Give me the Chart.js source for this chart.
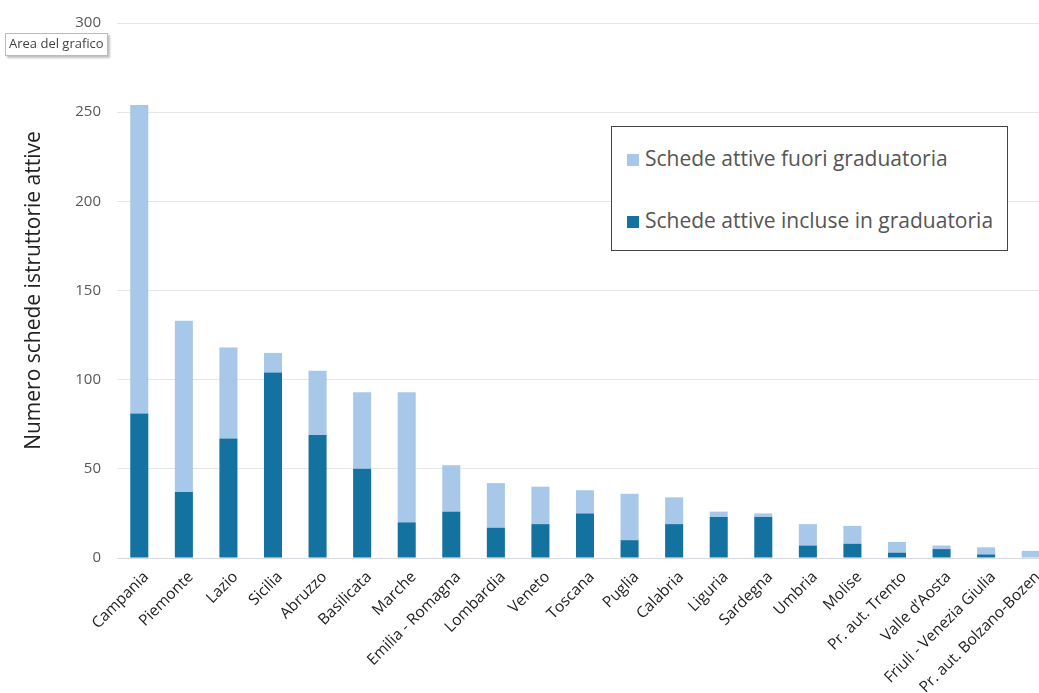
<!DOCTYPE html>
<html><head><meta charset="utf-8">
<script src="https://cdn.jsdelivr.net/npm/chart.js@4/dist/chart.umd.min.js"></script>
<style>
html,body{margin:0;padding:0;background:#fff;overflow:hidden;width:1039px;height:693px}
#wrap{position:relative;width:1039px;height:693px;overflow:hidden;background:#fff}
canvas{position:absolute;left:0;top:0}
#tip{position:absolute;left:5px;top:33px;height:21px;padding:0 3px;line-height:21px;font:13px "Open Sans",sans-serif;color:#444;background:#fff;border:1px solid #bbb;box-shadow:2px 2px 2px rgba(0,0,0,0.25);white-space:nowrap}
#legend{position:absolute;left:611px;top:126px;width:395px;height:123px;border:1px solid #444;background:#fff;font:21px "Open Sans",sans-serif;color:#555}
#legend .it{position:absolute;left:15px;height:26px;line-height:26px;white-space:nowrap}
#legend .sw{display:inline-block;width:12px;height:12px;margin-right:6px;vertical-align:0px}
</style></head><body>
<div id="wrap"><canvas id="c" width="1053" height="693"></canvas><div id="tip">Area del grafico</div><div id="legend"></div></div>
<script>
const categories = ["Campania","Piemonte","Lazio","Sicilia","Abruzzo","Basilicata","Marche","Emilia - Romagna","Lombardia","Veneto","Toscana","Puglia","Calabria","Liguria","Sardegna","Umbria","Molise","Pr. aut. Trento","Valle d\u2019Aosta","Friuli - Venezia Giulia","Pr. aut. Bolzano-Bozen"];
const incluseInGraduatoria = [81,37,67,104,69,50,20,26,17,19,25,10,19,23,23,7,8,3,5,2,0];
const fuoriGraduatoria = [173,96,51,11,36,43,73,26,25,21,13,26,15,3,2,12,10,6,2,4,4];
const yTickValues = [0,50,100,150,200,250,300];
const seriesNames = ["Schede attive incluse in graduatoria","Schede attive fuori graduatoria"];
const seriesColors = ["#13729f","#a7c8e8"];
const yTitle = "Numero schede istruttorie attive";

const chart = new Chart(document.getElementById('c'), {
  type: 'bar',
  data: {
    labels: categories,
    datasets: [
      {label: seriesNames[0], data: incluseInGraduatoria, backgroundColor: seriesColors[0], borderWidth: 0, categoryPercentage: 1, barPercentage: 0.405},
      {label: seriesNames[1], data: fuoriGraduatoria, backgroundColor: seriesColors[1], borderWidth: 0, categoryPercentage: 1, barPercentage: 0.405}
    ]
  },
  options: {
    responsive: false,
    devicePixelRatio: 1,
    animation: false,
    layout: {padding: {top: 23, left: 0, right: 0, bottom: 0}},
    plugins: {legend: {display: false}, tooltip: {enabled: false}},
    scales: {
      x: {
        stacked: true,
        grid: {display: false},
        border: {display: true, color: '#d5d9dd', width: 1},
        ticks: {minRotation: 45, maxRotation: 45, autoSkip: false, padding: 2, labelOffset: 7, color: '#222', font: {family: '"Open Sans", sans-serif', size: 15.5}},
        afterFit(s){ s.height = 135; s.paddingLeft = 0; s.paddingRight = 0; }
      },
      y: {
        stacked: true,
        min: 0, max: 300,
        afterBuildTicks(s){ s.ticks = yTickValues.map(v => ({value: v})); },
        grid: {color: '#e6e6e6', drawTicks: false},
        border: {display: false},
        ticks: {padding: 16, color: '#595959', font: {family: '"Open Sans", sans-serif', size: 15}},
        title: {display: true, text: yTitle, color: '#222', padding: {top: 21, bottom: 0}, font: {family: '"Open Sans", sans-serif', size: 21}},
        afterFit(s){ s.width = 117; s.paddingTop = 0; s.paddingBottom = 0; }
      }
    }
  }
});

const lg = document.getElementById('legend');
const order = [1, 0];
const tops = [18, 80];
order.forEach((di, i) => {
  const it = document.createElement('div');
  it.className = 'it';
  it.style.top = tops[i] + 'px';
  const sw = document.createElement('span');
  sw.className = 'sw';
  sw.style.background = chart.data.datasets[di].backgroundColor;
  it.appendChild(sw);
  it.appendChild(document.createTextNode(chart.data.datasets[di].label));
  lg.appendChild(it);
});
</script>
</body></html>
